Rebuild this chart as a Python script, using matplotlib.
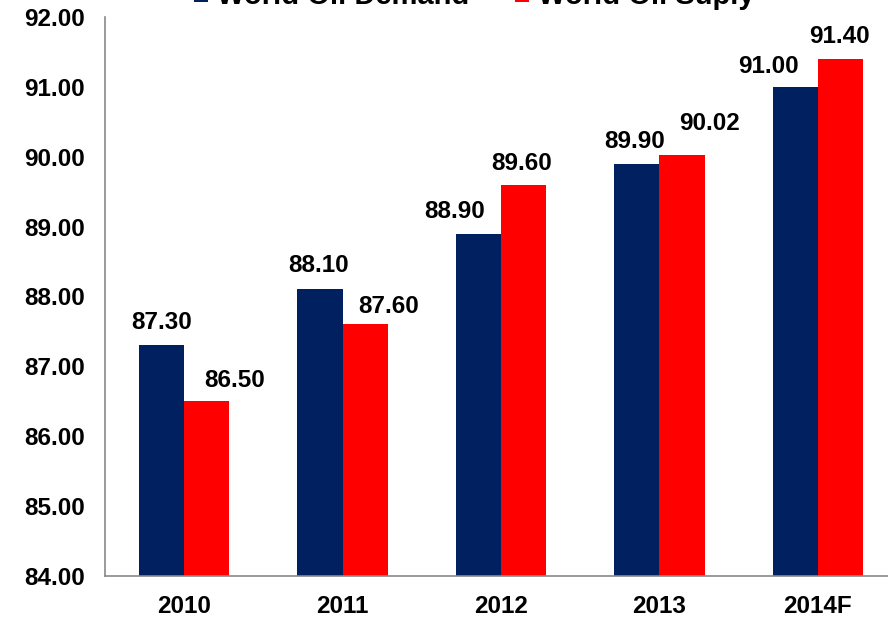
import numpy as np
import matplotlib.pyplot as plt

years = ['2010', '2011', '2012', '2013', '2014F']
demand = [87.30, 88.10, 88.90, 89.90, 91.00]
supply = [86.50, 87.60, 89.60, 90.02, 91.40]
y_ticks = [84, 85, 86, 87, 88, 89, 90, 91, 92]

# hand-placed label nudges (pixels: right, up from the bar top)
demand_nudge = [(0, 25), (-1, 26), (-24, 24), (-2, 24), (-27, 22)]
supply_nudge = [(28, 23), (23, 20), (-2, 23), (27, 34), (-1, 24)]

navy = '#002060'
red = '#FF0000'
grey = '#898989'

plt.rcParams['font.family'] = ['Liberation Sans', 'DejaVu Sans']
plt.rcParams['font.weight'] = 'bold'

fig = plt.figure(figsize=(8.88, 6.18), dpi=100)
ax = fig.add_axes([0.1182, 0.068, 0.892, 0.9045])

x = np.arange(len(years))
w = 0.285
b1 = ax.bar(x - w / 2, demand, w, color=navy, label='World Oil Demand')
b2 = ax.bar(x + w / 2, supply, w, color=red, label='World Oil Suply')

ax.set_xlim(-0.5, 4.5)
ax.set_ylim(84, 92)
ax.set_yticks(y_ticks)
ax.set_yticklabels(['{:.2f}'.format(v) for v in y_ticks])
ax.set_xticks(x)
ax.set_xticklabels(years)
ax.tick_params(axis='y', length=0, pad=14.5, labelsize=17.5)
ax.tick_params(axis='x', length=0, pad=13.5, labelsize=17.5)

for s in ['top', 'right']:
    ax.spines[s].set_visible(False)
for s in ['left', 'bottom']:
    ax.spines[s].set_color(grey)
    ax.spines[s].set_linewidth(1.2)

def put_labels(xs, vals, nudges):
    for xi, v, (dx, dy) in zip(xs, vals, nudges):
        ax.annotate('{:.2f}'.format(v), xy=(xi, v), xytext=(dx, dy - 8.5),
                    textcoords='offset pixels', ha='center', va='baseline',
                    fontsize=17.5, fontweight='bold', annotation_clip=False)

put_labels(x - w / 2, demand, demand_nudge)
put_labels(x + w / 2, supply, supply_nudge)

fig.legend(handles=[b1, b2], loc='center', bbox_to_anchor=(0.534, 1.006),
           ncol=2, frameon=False, fontsize=21, handlelength=0.5,
           handleheight=0.45, handletextpad=0.3, columnspacing=1.55,
           borderaxespad=0, borderpad=0)

fig.savefig('out.png', dpi=100)
